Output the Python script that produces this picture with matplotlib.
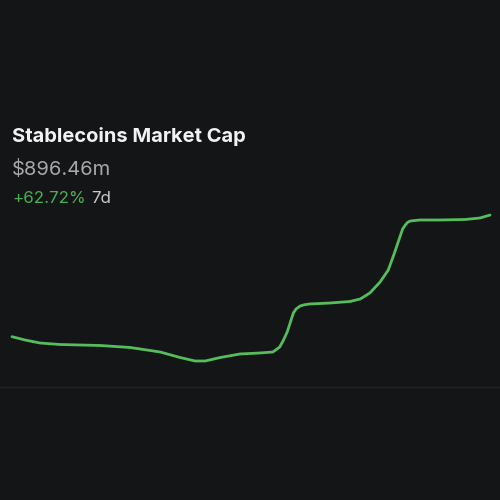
import matplotlib
matplotlib.use("Agg")
import matplotlib.pyplot as plt

# 7 day stablecoin market cap, $m
days = [0, 0.19, 0.41, 0.70, 1.29, 1.73, 2.17, 2.46, 2.68, 2.83, 3.05, 3.34,
        3.63, 3.82, 3.92, 3.97, 4.03, 4.12, 4.16, 4.22, 4.28, 4.36, 4.66,
        4.95, 5.10, 5.24, 5.39, 5.51, 5.59, 5.68, 5.72, 5.76, 5.79, 5.83,
        5.97, 6.27, 6.63, 6.85, 7.00]
mcap = [551.0, 541.6, 533.1, 528.8, 526.0, 520.3, 507.5, 491.9, 482.0, 482.0,
        491.9, 501.9, 504.7, 507.5, 521.7, 539.3, 564.3, 618.3, 629.8, 638.2,
        641.6, 643.9, 646.7, 651.0, 658.1, 675.1, 706.3, 740.4, 783.0, 834.1,
        856.9, 868.2, 875.3, 879.5, 882.4, 882.4, 883.8, 888.0, 896.5]

title = "Stablecoins Market Cap"
value_label = "$896.46m"
change_label = "+62.72%"
period_label = "7d"

bg = "#141517"
green = "#55bd5c"

fig = plt.figure(figsize=(5, 5), dpi=100, facecolor=bg)
ax = fig.add_axes([0, 0, 1, 1])
ax.set_facecolor(bg)
ax.plot(days, mcap, color=green, lw=2.0, solid_capstyle="round",
        solid_joinstyle="round")
ax.set_xlim(-0.1757, 7.146)
ax.set_ylim(87.2, 1507.2)
ax.axis("off")

# faint card edge
fig.add_artist(plt.Line2D([0, 1], [1 - 387/500, 1 - 387/500], color="#202124", lw=1))

fig.text(12/500, 1 - 142/500, title, color="#f2f2f2", fontsize=14.5,
         fontweight="bold", family="Inter", va="baseline")
fig.text(12/500, 1 - 175/500, value_label, color="#a8a8a8", fontsize=14.5,
         family="Inter", va="baseline")
fig.text(12/500, 1 - 203/500, change_label, color="#4caf50", fontsize=12.2,
         family="Inter", va="baseline")
fig.text(91/500, 1 - 203/500, period_label, color="#c8c8c8", fontsize=12.2,
         family="Inter", va="baseline")

fig.savefig("out.png", dpi=100, facecolor=bg)
